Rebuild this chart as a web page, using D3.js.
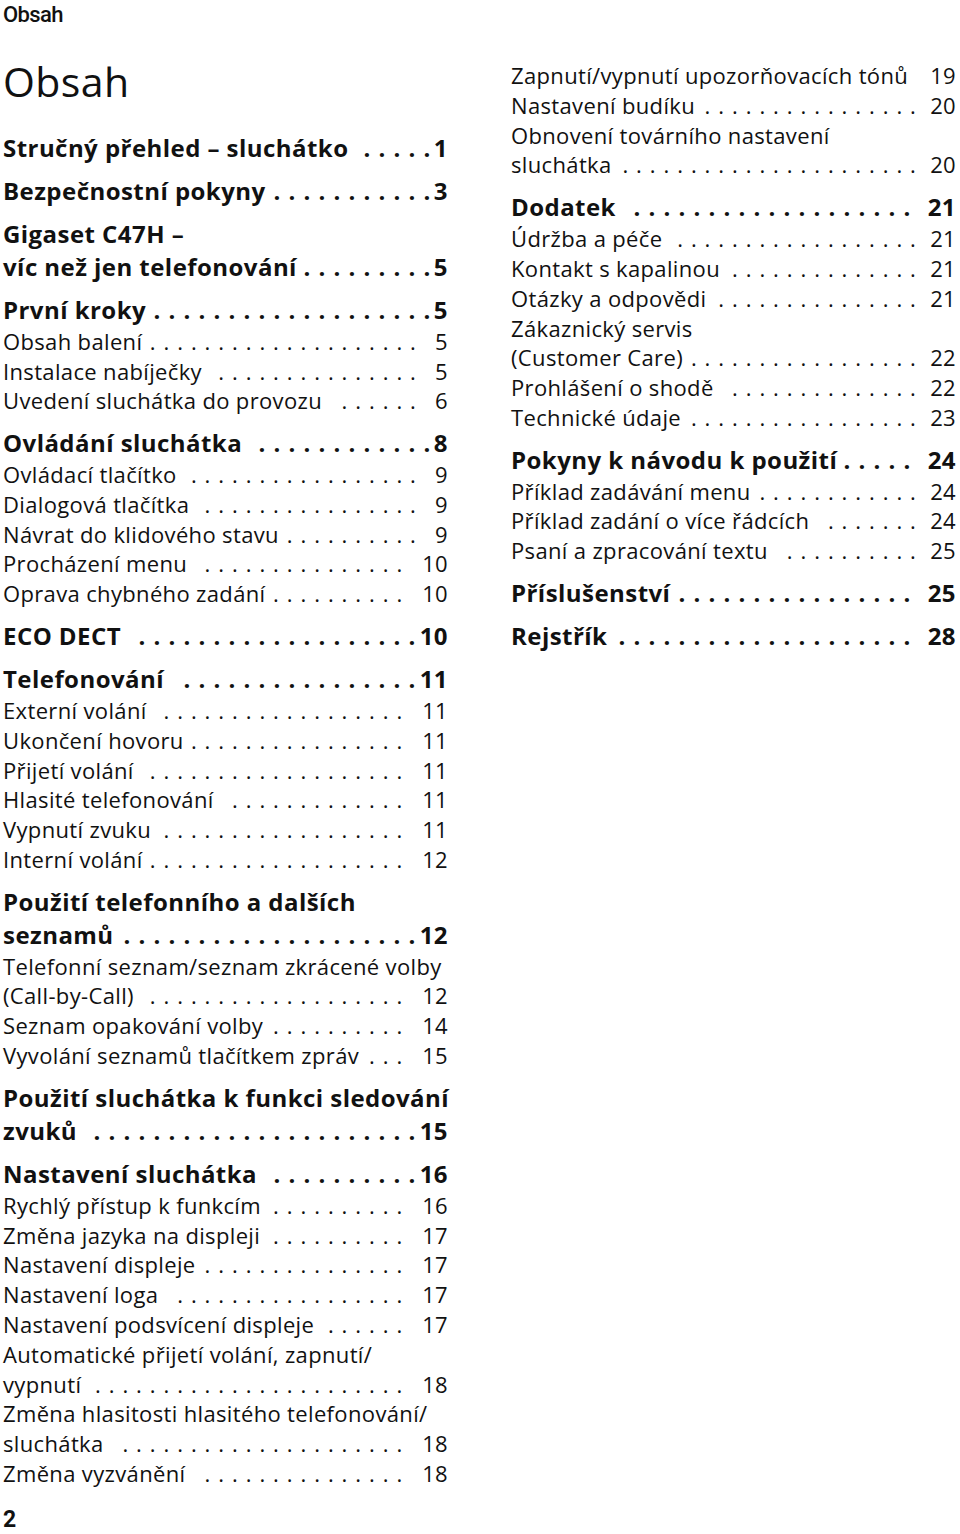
<!DOCTYPE html>
<html>
<head>
<meta charset="utf-8">
<script src="https://cdn.jsdelivr.net/npm/d3@7"></script>
<style>
  body { margin: 0; background: #fff; }
  svg { display: block; }
</style>
</head>
<body>
<svg id="toc"></svg>
<script>
// table of contents, left column (level 1 = chapter, 2 = section)
const leftTitles = [
    "Stručný přehled – sluchátko",
    "Bezpečnostní pokyny",
    "Gigaset C47H –\nvíc než jen telefonování",
    "První kroky",
    "Obsah balení",
    "Instalace nabíječky",
    "Uvedení sluchátka do provozu",
    "Ovládání sluchátka",
    "Ovládací tlačítko",
    "Dialogová tlačítka",
    "Návrat do klidového stavu",
    "Procházení menu",
    "Oprava chybného zadání",
    "ECO DECT",
    "Telefonování",
    "Externí volání",
    "Ukončení hovoru",
    "Přijetí volání",
    "Hlasité telefonování",
    "Vypnutí zvuku",
    "Interní volání",
    "Použití telefonního a dalších\nseznamů",
    "Telefonní seznam/seznam zkrácené volby\n(Call-by-Call)",
    "Seznam opakování volby",
    "Vyvolání seznamů tlačítkem zpráv",
    "Použití sluchátka k funkci sledování\nzvuků",
    "Nastavení sluchátka",
    "Rychlý přístup k funkcím",
    "Změna jazyka na displeji",
    "Nastavení displeje",
    "Nastavení loga",
    "Nastavení podsvícení displeje",
    "Automatické přijetí volání, zapnutí/\nvypnutí",
    "Změna hlasitosti hlasitého telefonování/\nsluchátka",
    "Změna vyzvánění"
];
const leftPages = [1, 3, 5, 5, 5, 5, 6, 8, 9, 9, 9, 10, 10, 10, 11, 11, 11, 11, 11, 11, 12,
    12, 12, 14, 15, 15, 16, 16, 17, 17, 17, 17, 18, 18, 18];
const leftLevels = [1, 1, 1, 1, 2, 2, 2, 1, 2, 2, 2, 2, 2, 1, 1, 2, 2, 2, 2, 2, 2,
    1, 2, 2, 2, 1, 1, 2, 2, 2, 2, 2, 2, 2, 2];

// right column
const rightTitles = [
    "Zapnutí/vypnutí upozorňovacích tónů",
    "Nastavení budíku",
    "Obnovení továrního nastavení\nsluchátka",
    "Dodatek",
    "Údržba a péče",
    "Kontakt s kapalinou",
    "Otázky a odpovědi",
    "Zákaznický servis\n(Customer Care)",
    "Prohlášení o shodě",
    "Technické údaje",
    "Pokyny k návodu k použití",
    "Příklad zadávání menu",
    "Příklad zadání o více řádcích",
    "Psaní a zpracování textu",
    "Příslušenství",
    "Rejstřík"
];
const rightPages = [19, 20, 20, 21, 21, 21, 21, 22, 22, 23, 24, 24, 24, 25, 25, 28];
const rightLevels = [2, 2, 2, 1, 2, 2, 2, 2, 2, 2, 1, 2, 2, 2, 1, 1];

const pageHeader = "Obsah";
const pageTitle = "Obsah";
const pageNumber = "2";

const width = 960;
const height = 1534;
const FONT = "'Open Sans', 'Noto Sans', sans-serif";

const svg = d3.select('#toc')
    .attr('width', width)
    .attr('height', height)
    .attr('viewBox', [0, 0, width, height]);

svg.append('text')
    .attr('x', 3)
    .attr('y', 22)
    .attr('font-family', "Roboto, sans-serif")
    .attr('font-weight', 500)
    .attr('font-size', 22)
    .attr('letter-spacing', -0.6)
    .attr('fill', '#111')
    .text(pageHeader);

svg.append('text')
    .attr('x', 3)
    .attr('y', 97)
    .attr('font-family', FONT)
    .attr('font-size', 41)
    .attr('font-weight', 500)
    .attr('letter-spacing', 0.4)
    .attr('fill', '#111')
    .text(pageTitle);

svg.append('text')
    .attr('x', 3)
    .attr('y', 1527)
    .attr('font-family', "Roboto, sans-serif")
    .attr('font-weight', 700)
    .attr('font-size', 23)
    .attr('fill', '#111')
    .text(pageNumber);

// vertical rhythm of the list
function layoutRows(titles, levels, firstY) {
    let y = firstY;
    let rows = [];
    titles.forEach((t, i) => {
        const lines = t.split('\n');
        if (i > 0) {
            if (levels[i] === 1) y += 43;
            else if (levels[i - 1] === 1) y += 30.7;
            else y += 29.8;
        }
        const ys = [];
        lines.forEach((ln, j) => {
            if (j > 0) y += levels[i] === 1 ? 33 : 29.8;
            ys.push(y);
        });
        rows.push({ lines: lines, ys: ys, level: levels[i], idx: i });
    });
    return rows;
}

function drawColumn(titles, pages, levels, opt) {
    const rows = layoutRows(titles, levels, opt.firstY);
    const g = svg.append('g').attr('fill', '#111').attr('font-family', FONT);

    rows.forEach(r => {
        const bold = r.level === 1;
        const fs = bold ? 24 : 22;
        const weight = bold ? 700 : 400;
        const ls = bold ? 0.45 : 0.35;
        const last = r.lines.length - 1;

        r.lines.forEach((ln, j) => {
            const t = g.append('text')
                .attr('x', opt.left)
                .attr('y', r.ys[j])
                .attr('font-size', fs)
                .attr('font-weight', weight)
                .attr('letter-spacing', ls)
                .text(ln);
            if (j === last) r.textEnd = opt.left + t.node().getComputedTextLength();
        });

        const num = g.append('text')
            .attr('x', opt.right)
            .attr('y', r.ys[last])
            .attr('text-anchor', 'end')
            .attr('font-size', fs)
            .attr('font-weight', weight)
            .attr('letter-spacing', ls)
            .text(pages[r.idx]);
        const numLeft = opt.right - num.node().getComputedTextLength();

        // leader dots sit on a fixed grid so they line up between rows
        const lead = bold ? opt.boldLead : opt.lead;
        const dots = [];
        for (let k = 0; k < 60; k++) {
            const x = opt.right - lead.offset - k * lead.step;
            if (x > numLeft - lead.gap) continue;
            if (x < r.textEnd + 9) break;
            dots.push(x);
        }
        g.selectAll(null)
            .data(dots)
            .join('text')
            .attr('x', d => d)
            .attr('y', r.ys[last])
            .attr('text-anchor', 'middle')
            .attr('font-size', fs)
            .attr('font-weight', weight)
            .text('.');
    });
}

drawColumn(leftTitles, leftPages, leftLevels, {
    left: 3, right: 448, firstY: 157,
    lead: { step: 13.7, offset: 35, gap: 14 },
    boldLead: { step: 15, offset: 21, gap: 5 }
});

drawColumn(rightTitles, rightPages, rightLevels, {
    left: 511, right: 956, firstY: 84,
    lead: { step: 13.7, offset: 43, gap: 14 },
    boldLead: { step: 15, offset: 49, gap: 12 }
});
</script>
</body>
</html>
